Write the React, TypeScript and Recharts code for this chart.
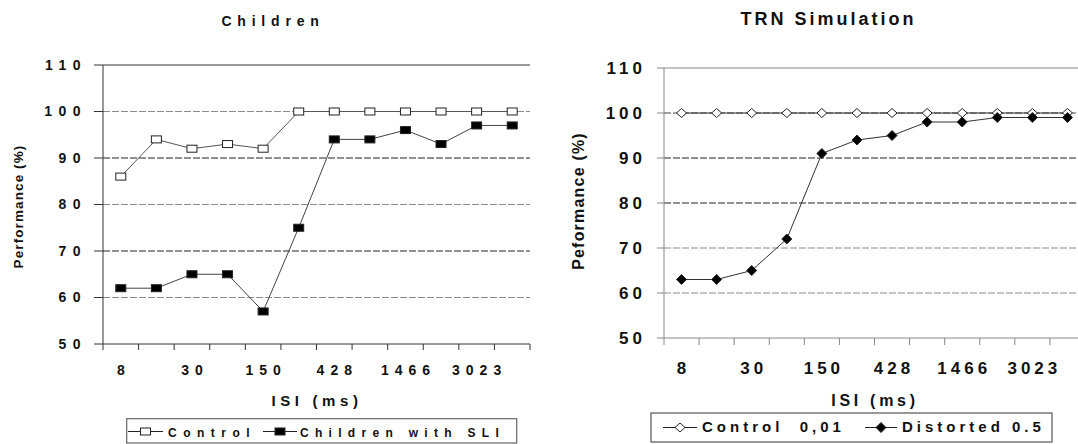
import { LineChart, Line, XAxis, YAxis, ReferenceLine } from 'recharts'

// ─── Data ─────────────────────────────────────────────────────────────────────

const isiTicks = ['8', '', '30', '', '150', '', '428', '', '1466', '', '3023', '']

const childControl = [86, 94, 92, 93, 92, 100, 100, 100, 100, 100, 100, 100]
const childSli = [62, 62, 65, 65, 57, 75, 94, 94, 96, 93, 97, 97]

const trnControl = [100, 100, 100, 100, 100, 100, 100, 100, 100, 100, 100, 100]
const trnDistorted = [63, 63, 65, 72, 91, 94, 95, 98, 98, 99, 99, 99]

const childNames = ['Control', 'Children with SLI']
const trnNames = ['Control  0,01', 'Distorted 0.5']

const yTicks = [50, 60, 70, 80, 90, 100, 110]
const gridValues = [60, 70, 80, 90, 100]

const childData = isiTicks.map((_, i) => ({ i, a: childControl[i], b: childSli[i] }))
const trnData = isiTicks.map((_, i) => ({ i, a: trnControl[i], b: trnDistorted[i] }))

// ─── Styles ───────────────────────────────────────────────────────────────────

const FONT = "'Liberation Sans', Arial, sans-serif"
const leftGridColors = ['#8c8c8c', '#222', '#8c8c8c', '#222', '#8c8c8c']
const rightGridColors = ['#8c8c8c', '#8c8c8c', '#222', '#222', '#444']

// ─── Markers ──────────────────────────────────────────────────────────────────

const Square = ({ cx, cy, filled }: { cx: number; cy: number; filled: boolean }) => (
  <rect x={cx - 5} y={cy - 3.5} width={10} height={7} fill={filled ? '#000' : '#fff'} stroke="#222" strokeWidth={1} />
)

const Diamond = ({ cx, cy, filled }: { cx: number; cy: number; filled: boolean }) => {
  const h = filled ? 5 : 4.5
  return (
    <polygon
      points={`${cx - 5},${cy} ${cx},${cy - h} ${cx + 5},${cy} ${cx},${cy + h}`}
      fill={filled ? '#000' : '#fff'}
      stroke="#222"
      strokeWidth={1}
    />
  )
}

const dotOf = (shape: 'square' | 'diamond', filled: boolean) => (p: any) => {
  if (p.cx == null || p.cy == null) return <g key={p.index} />
  return shape === 'square' ? (
    <Square key={p.index} cx={p.cx} cy={p.cy} filled={filled} />
  ) : (
    <Diamond key={p.index} cx={p.cx} cy={p.cy} filled={filled} />
  )
}

// category tick: label at band centre, tick marks on the band edges
const makeTick =
  (margin: number, size: number, color: string, fontSize: number, spacing: number, count: number) =>
  (t: any) => {
    const half = t.payload?.offset ?? 0
    const axisY = t.y - margin
    const label = isiTicks[t.payload.value]
    return (
      <g>
        <line x1={t.x - half} x2={t.x - half} y1={axisY} y2={axisY + size} stroke={color} />
        {t.index === count - 1 && (
          <line x1={t.x + half} x2={t.x + half} y1={axisY} y2={axisY + size} stroke={color} />
        )}
        <text
          x={t.x + spacing / 2}
          y={t.y}
          dy="0.71em"
          textAnchor="middle"
          fontFamily={FONT}
          fontWeight={700}
          fontSize={fontSize}
          letterSpacing={spacing}
          fill="#111"
        >
          {label}
        </text>
      </g>
    )
  }

// ─── Panel ────────────────────────────────────────────────────────────────────

interface PanelProps {
  data: Array<{ i: number; a: number; b: number }>
  left: number
  width: number
  margin: { top: number; right: number; bottom: number; left: number }
  yWidth: number
  xHeight: number
  axisColor: string
  gridColors: string[]
  yTickSize: number
  yTickMargin: number
  xTickSize: number
  xTickMargin: number
  fontSize: number
  yLetter: number
  xLetter: number
  shape: 'square' | 'diamond'
  lineColors: string[]
}

function Panel(p: PanelProps) {
  const tickStyle = { fontFamily: FONT, fontWeight: 700, fontSize: p.fontSize, fill: '#111' }
  return (
    <div style={{ position: 'absolute', left: p.left, top: 0 }}>
      <LineChart width={p.width} height={444} data={p.data} margin={p.margin}>
        <XAxis
          dataKey="i"
          type="category"
          scale="band"
          height={p.xHeight}
          interval={0}
          axisLine={{ stroke: p.axisColor }}
          tickLine={false}
          tickSize={0}
          tickMargin={p.xTickMargin}
          tick={makeTick(p.xTickMargin, p.xTickSize, p.axisColor, p.fontSize, p.xLetter, p.data.length)}
        />
        <YAxis
          domain={[50, 110]}
          ticks={yTicks}
          width={p.yWidth}
          interval={0}
          tickSize={p.yTickSize}
          tickMargin={p.yTickMargin}
          axisLine={{ stroke: p.axisColor }}
          tickLine={{ stroke: p.axisColor }}
          tick={{ ...tickStyle, letterSpacing: p.yLetter }}
        />
        <YAxis
          yAxisId="r"
          orientation="right"
          domain={[50, 110]}
          width={0}
          tick={false}
          tickLine={false}
          axisLine={{ stroke: p.axisColor }}
        />
        {gridValues.map((v, k) => (
          <ReferenceLine key={v} y={v} stroke={p.gridColors[k]} strokeDasharray="7 2" />
        ))}
        <ReferenceLine y={110} stroke={p.axisColor} />
        <Line
          type="linear"
          dataKey="a"
          stroke={p.lineColors[0]}
          strokeWidth={1}
          dot={dotOf(p.shape, false)}
          isAnimationActive={false}
        />
        <Line
          type="linear"
          dataKey="b"
          stroke={p.lineColors[1]}
          strokeWidth={1}
          dot={dotOf(p.shape, true)}
          isAnimationActive={false}
        />
      </LineChart>
    </div>
  )
}

// ─── App ──────────────────────────────────────────────────────────────────────

export default function App() {
  const bold = { fontFamily: FONT, fontWeight: 700, fill: '#111' } as const
  return (
    <div
      style={{
        position: 'absolute',
        left: 0,
        top: 0,
        width: 1078,
        height: 444,
        overflow: 'hidden',
        background: '#fff',
      }}
    >
      <Panel
        data={childData}
        left={0}
        width={560}
        margin={{ top: 65, right: 30, bottom: 0, left: 0 }}
        yWidth={103}
        xHeight={100}
        axisColor="#333"
        gridColors={leftGridColors}
        yTickSize={9}
        yTickMargin={7}
        xTickSize={6}
        xTickMargin={21}
        fontSize={14}
        yLetter={6.5}
        xLetter={6}
        shape="square"
        lineColors={['#555', '#444']}
      />
      <Panel
        data={trnData}
        left={540}
        width={560}
        margin={{ top: 68, right: 15, bottom: 0, left: 0 }}
        yWidth={124}
        xHeight={106}
        axisColor="#888"
        gridColors={rightGridColors}
        yTickSize={7}
        yTickMargin={11}
        xTickSize={7}
        xTickMargin={24}
        fontSize={17}
        yLetter={4}
        xLetter={4}
        shape="diamond"
        lineColors={['#333', '#333']}
      />

      {/* titles, axis labels, legends */}
      <svg width={1078} height={444} style={{ position: 'absolute', left: 0, top: 0, pointerEvents: 'none' }}>
        <text x={273} y={26} textAnchor="middle" fontSize={14} letterSpacing={5.8} {...bold}>
          Children
        </text>
        <text x={828.5} y={25} textAnchor="middle" fontSize={18} letterSpacing={3} {...bold}>
          TRN Simulation
        </text>
        <text x={317} y={406} textAnchor="middle" fontSize={15} letterSpacing={4.6} {...bold}>
          ISI (ms)
        </text>
        <text x={875} y={406} textAnchor="middle" fontSize={16} letterSpacing={3.7} {...bold}>
          ISI (ms)
        </text>
        <text
          transform="translate(18,206.5) rotate(-90)"
          textAnchor="middle"
          dominantBaseline="central"
          fontSize={13.5}
          letterSpacing={1.1}
          {...bold}
        >
          Performance (%)
        </text>
        <text
          transform="translate(578,201) rotate(-90)"
          textAnchor="middle"
          dominantBaseline="central"
          fontSize={16}
          letterSpacing={1.2}
          {...bold}
        >
          Peformance (%)
        </text>

        {/* left legend */}
        <rect x={126.7} y={418.7} width={390} height={24.3} fill="#fff" stroke="#666" strokeWidth={1.2} />
        <line x1={128} x2={163} y1={431.5} y2={431.5} stroke="#222" />
        <Square cx={145.5} cy={431.5} filled={false} />
        <text x={168} y={437} fontSize={12} letterSpacing={6.5} {...bold}>
          {childNames[0]}
        </text>
        <line x1={263} x2={297} y1={431.5} y2={431.5} stroke="#222" />
        <Square cx={280} cy={431.5} filled />
        <text x={300} y={437} fontSize={12} letterSpacing={6.3} {...bold}>
          {childNames[1]}
        </text>

        {/* right legend */}
        <rect x={651} y={413} width={401} height={29} fill="#fff" stroke="#555" strokeWidth={1.2} />
        <line x1={663} x2={697} y1={427.5} y2={427.5} stroke="#222" />
        <Diamond cx={680} cy={427.5} filled={false} />
        <text x={702} y={432} fontSize={15} letterSpacing={4} style={{ whiteSpace: 'pre' }} {...bold}>
          {trnNames[0]}
        </text>
        <line x1={865} x2={897} y1={427.5} y2={427.5} stroke="#222" />
        <Diamond cx={881} cy={427.5} filled />
        <text x={902} y={432} fontSize={15} letterSpacing={4} {...bold}>
          {trnNames[1]}
        </text>
      </svg>
    </div>
  )
}
